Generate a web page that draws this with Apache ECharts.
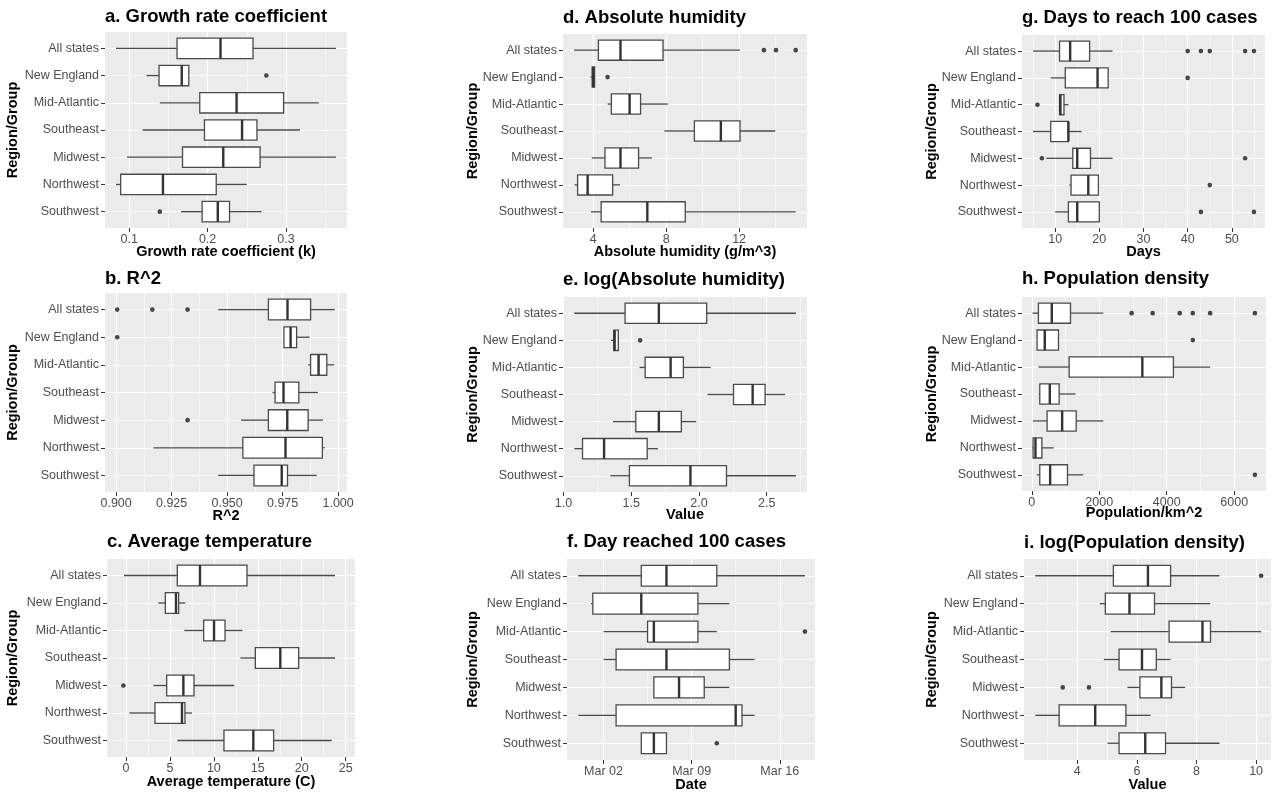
<!DOCTYPE html>
<html><head><meta charset="utf-8">
<script src="https://cdn.jsdelivr.net/npm/echarts@6/dist/echarts.min.js"></script>
<style>html,body{margin:0;padding:0;background:#fff}#c{width:1272px;height:794px}</style>
</head><body><div id="c"></div><script>
// ---------------- DATA ----------------
const regions = ['All states','New England','Mid-Atlantic','Southeast','Midwest','Northwest','Southwest'];
// each row: [lower whisker, Q1, median, Q3, upper whisker]; outliers: [regionIndex, value]
const growthRate = [[0.083,0.161,0.2165,0.258,0.364],[0.122,0.138,0.167,0.176,0.176],[0.139,0.190,0.237,0.297,0.342],[0.117,0.196,0.244,0.263,0.318],[0.097,0.168,0.220,0.267,0.364],[0.083,0.089,0.143,0.211,0.250],[0.166,0.193,0.213,0.228,0.269]];
const growthRateOut = [[1,0.275],[6,0.139]];
const rSquared = [[0.946,0.9686,0.9772,0.9876,0.9985],[0.9756,0.9756,0.9786,0.9813,0.9872],[0.9865,0.9876,0.9912,0.9949,0.9982],[0.9705,0.9716,0.9754,0.9823,0.9909],[0.9563,0.9686,0.9771,0.9865,0.9932],[0.9168,0.9571,0.9763,0.9929,0.9939],[0.946,0.9621,0.9746,0.9772,0.9903]];
const rSquaredOut = [[0,0.9005],[0,0.9163],[0,0.9322],[1,0.9005],[4,0.9322]];
const avgTemp = [[-0.23,5.84,8.42,13.77,23.79],[3.68,4.48,5.69,5.99,6.75],[6.64,8.84,10.02,11.27,13.24],[13.01,14.72,17.56,19.65,23.79],[3.11,4.63,6.53,7.74,12.33],[0.38,3.3,6.37,6.71,7.51],[5.84,11.15,14.49,16.8,23.41]];
const avgTempOut = [[4,-0.3]];
const absHumidity = [[2.96,4.29,5.50,7.83,12.05],[3.86,3.95,4.0,4.08,4.08],[4.8,5.0,6.0,6.6,8.1],[7.9,9.55,11.0,12.05,13.98],[3.93,4.65,5.5,6.49,7.22],[2.98,3.15,3.7,5.07,5.47],[3.88,4.44,6.97,9.05,15.1]];
const absHumidityOut = [[0,13.36],[0,14.02],[0,15.1],[1,4.79]];
const logHumidity = [[1.08,1.455,1.704,2.057,2.715],[1.351,1.371,1.378,1.405,1.405],[1.561,1.603,1.791,1.885,2.087],[2.063,2.255,2.396,2.488,2.636],[1.366,1.534,1.704,1.87,1.98],[1.08,1.141,1.30,1.618,1.697],[1.346,1.487,1.937,2.203,2.715]];
const logHumidityOut = [[1,1.566]];
// day of March 2020 (Feb 29 = 0)
const dayReached100 = [[0,5,7,11,18],[1,1.15,5,9.5,12],[2,5.5,6,9.5,11],[2,3,7,12,14],[6,6,8,10,12],[0,3,12.5,13,14],[5,5,6,7,7]];
const dayReached100Out = [[2,18],[6,11]];
const dateTickDays = [2,9,16];
const dateTickLabels = ['Mar 02','Mar 09','Mar 16'];
const daysTo100 = [[5,11,13.4,17.8,23],[9,12.3,19.6,22,22],[11,11,11.2,12,13],[5,9,13,13,16],[8,14,15,18,23],[13.2,13.6,17.5,19.8,19.8],[10,13,15,20,20]];
const daysTo100Out = [[0,40],[0,43],[0,45],[0,53],[0,55],[1,40],[2,6],[4,7],[4,53],[5,45],[6,43],[6,55]];
const popDensity = [[20,198,594,1148,2119],[158,158,386,792,800],[198,1109,3277,4198,5287],[208,238,535,812,1297],[33,455,901,1317,2119],[13,40,110,300,650],[150,238,545,1059,1525]];
const popDensityOut = [[0,2960],[0,3584],[0,4386],[0,4772],[0,5287],[0,6613],[1,4772],[6,6613]];
const logPopDensity = [[2.59,5.21,6.37,7.13,8.77],[4.75,4.94,5.75,6.59,8.46],[5.12,7.08,8.2,8.47,10.17],[4.89,5.40,6.17,6.65,7.13],[5.68,6.10,6.82,7.16,7.62],[2.59,3.39,4.60,5.63,6.46],[5.01,5.40,6.28,6.96,8.77]];
const logPopDensityOut = [[0,10.17],[4,3.51],[4,4.39]];

// ---------------- LAYOUT ----------------
const dateOrigin = 2; // axis value 0 = Mar 02
const panels = [
 {title:'a. Growth rate coefficient', xName:'Growth rate coefficient (k)', box:growthRate, out:growthRateOut, min:0.069, max:0.378, interval:0.1, ticks:[0.1,0.2,0.3], fmt:v=>v.toFixed(1), grid:[105,32,242,196], titleY:17, nameY:252, yNameX:13},
 {title:'b. R^2', xName:'R^2', box:rSquared, out:rSquaredOut, min:0.895, max:1.004, interval:0.025, ticks:[0.9,0.925,0.95,0.975,1.0], fmt:v=>v.toFixed(3), grid:[105,293,242,199], titleY:279, nameY:516, yNameX:13},
 {title:'c. Average temperature', xName:'Average temperature (C)', box:avgTemp, out:avgTempOut, min:-2.16, max:26.06, interval:5, ticks:[0,5,10,15,20,25], fmt:v=>String(v), grid:[107,559,248,198], titleY:542, nameY:782, yNameX:13},
 {title:'d. Absolute humidity', xName:'Absolute humidity (g/m^3)', box:absHumidity, out:absHumidityOut, min:2.35, max:15.72, interval:4, ticks:[4,8,12], fmt:v=>String(v), grid:[563,34,244,194], titleY:18, nameY:252, yNameX:473},
 {title:'e. log(Absolute humidity)', xName:'Value', box:logHumidity, out:logHumidityOut, min:0.997, max:2.797, interval:0.5, ticks:[1,1.5,2,2.5], fmt:v=>v.toFixed(1), grid:[563,297,244,195], titleY:280, nameY:515, yNameX:473},
 {title:'f. Day reached 100 cases', xName:'Date', box:dayReached100.map(r=>r.map(d=>d-dateOrigin)), out:dayReached100Out.map(o=>[o[0],o[1]-dateOrigin]), min:-2.9, max:16.8, interval:7, ticks:dateTickDays.map(d=>d-dateOrigin), fmt:v=>dateTickLabels[dateTickDays.indexOf(Math.round(v)+dateOrigin)] || '', grid:[567,559,248,201], titleY:542, nameY:785, yNameX:473},
 {title:'g. Days to reach 100 cases', xName:'Days', box:daysTo100, out:daysTo100Out, min:2.5, max:57.5, interval:10, ticks:[10,20,30,40,50], fmt:v=>String(v), grid:[1022,35,243,193], titleY:18, nameY:252, yNameX:932},
 {title:'h. Population density', xName:'Population/km^2', box:popDensity, out:popDensityOut, min:-289, max:6942, interval:2000, ticks:[0,2000,4000,6000], fmt:v=>String(v), grid:[1022,297,244,194], titleY:279, nameY:513, yNameX:932},
 {title:'i. log(Population density)', xName:'Value', box:logPopDensity, out:logPopDensityOut, min:2.21, max:10.5, interval:2, ticks:[4,6,8,10], fmt:v=>String(v), grid:[1024,559,247,201], titleY:543, nameY:785, yNameX:932}
];

const FONT = '"Liberation Sans", Arial, Helvetica, sans-serif';
const catTicks = regions.map((_, i) => i + 1);
const boxStroke = '#4a4a4a';

function renderBox(params, api) {
  const y = api.value(0);
  const p = [1,2,3,4,5].map(k => api.coord([api.value(k), y]));
  const h = api.size([0, 0.75])[1];
  const cy = p[0][1];
  const top = cy - h / 2;
  return {type:'group', children:[
    {type:'line', shape:{x1:p[0][0], y1:cy, x2:p[1][0], y2:cy}, style:{stroke:boxStroke, lineWidth:1.3}},
    {type:'line', shape:{x1:p[3][0], y1:cy, x2:p[4][0], y2:cy}, style:{stroke:boxStroke, lineWidth:1.3}},
    {type:'rect', shape:{x:p[1][0], y:top, width:Math.max(p[3][0]-p[1][0], 0.5), height:h}, style:{fill:'#ffffff', stroke:boxStroke, lineWidth:1.3}},
    {type:'line', shape:{x1:p[2][0], y1:top, x2:p[2][0], y2:top + h}, style:{stroke:'#333333', lineWidth:2.4}}
  ]};
}

const grids = [], xAxes = [], yAxes = [], series = [], graphics = [];
panels.forEach((pn, i) => {
  const [l, t, w, h] = pn.grid;
  grids.push({left:l, top:t, width:w, height:h, show:true, backgroundColor:'#EBEBEB', borderWidth:0, containLabel:false, outerBoundsMode:'none'});
  xAxes.push({
    gridIndex:i, type:'value', position:'bottom', min:pn.min, max:pn.max, minInterval:pn.interval, maxInterval:pn.interval,
    axisLine:{show:false, onZero:false},
    axisTick:{show:true, length:4, lineStyle:{color:'#333', width:1}, customValues:pn.ticks},
    axisLabel:{customValues:pn.ticks, formatter:pn.fmt, color:'#4D4D4D', fontSize:12.5, fontFamily:FONT, margin:5},
    splitLine:{show:true, lineStyle:{color:'#ffffff', width:1.2}},
    minorTick:{show:false, splitNumber:2},
    minorSplitLine:{show:true, lineStyle:{color:'#ffffff', width:0.6}}
  });
  yAxes.push({
    gridIndex:i, type:'value', position:'left', min:0.4, max:7.6, inverse:true, minInterval:1, maxInterval:1,
    axisLine:{show:false, onZero:false},
    axisTick:{show:true, length:4, lineStyle:{color:'#333', width:1}, customValues:catTicks},
    axisLabel:{customValues:catTicks, formatter:v => regions[Math.round(v) - 1] || '', color:'#4D4D4D', fontSize:12.5, fontFamily:FONT, margin:6},
    splitLine:{show:true, lineStyle:{color:'#ffffff', width:1.2}},
    minorSplitLine:{show:false}
  });
  series.push({
    type:'custom', xAxisIndex:i, yAxisIndex:i, renderItem:renderBox,
    encode:{x:[1,2,3,4,5], y:0},
    data:pn.box.map((r, k) => [k + 1].concat(r)), z:3, silent:true
  });
  series.push({
    type:'scatter', xAxisIndex:i, yAxisIndex:i, symbol:'circle', symbolSize:4.6,
    itemStyle:{color:'#1a1a1a'}, data:pn.out.map(o => [o[1], o[0] + 1]), z:4, silent:true
  });
  graphics.push({type:'text', x:l, y:pn.titleY, style:{text:pn.title, font:'bold 18.5px ' + FONT, fill:'#000', align:'left', textAlign:'left', verticalAlign:'middle', textVerticalAlign:'middle'}});
  graphics.push({type:'text', x:l + w / 2, y:pn.nameY, style:{text:pn.xName, font:'bold 14.5px ' + FONT, fill:'#000', align:'center', textAlign:'center', verticalAlign:'middle', textVerticalAlign:'middle'}});
  graphics.push({type:'text', x:pn.yNameX, y:t + h / 2, rotation:Math.PI / 2, style:{text:'Region/Group', font:'bold 14.5px ' + FONT, fill:'#000', align:'center', textAlign:'center', verticalAlign:'middle', textVerticalAlign:'middle'}});
});

const chart = echarts.init(document.getElementById('c'), null, {renderer:'canvas'});
chart.setOption({
  animation:false, backgroundColor:'#ffffff',
  grid:grids, xAxis:xAxes, yAxis:yAxes, series:series,
  graphic:{elements:graphics}
});
</script></body></html>
